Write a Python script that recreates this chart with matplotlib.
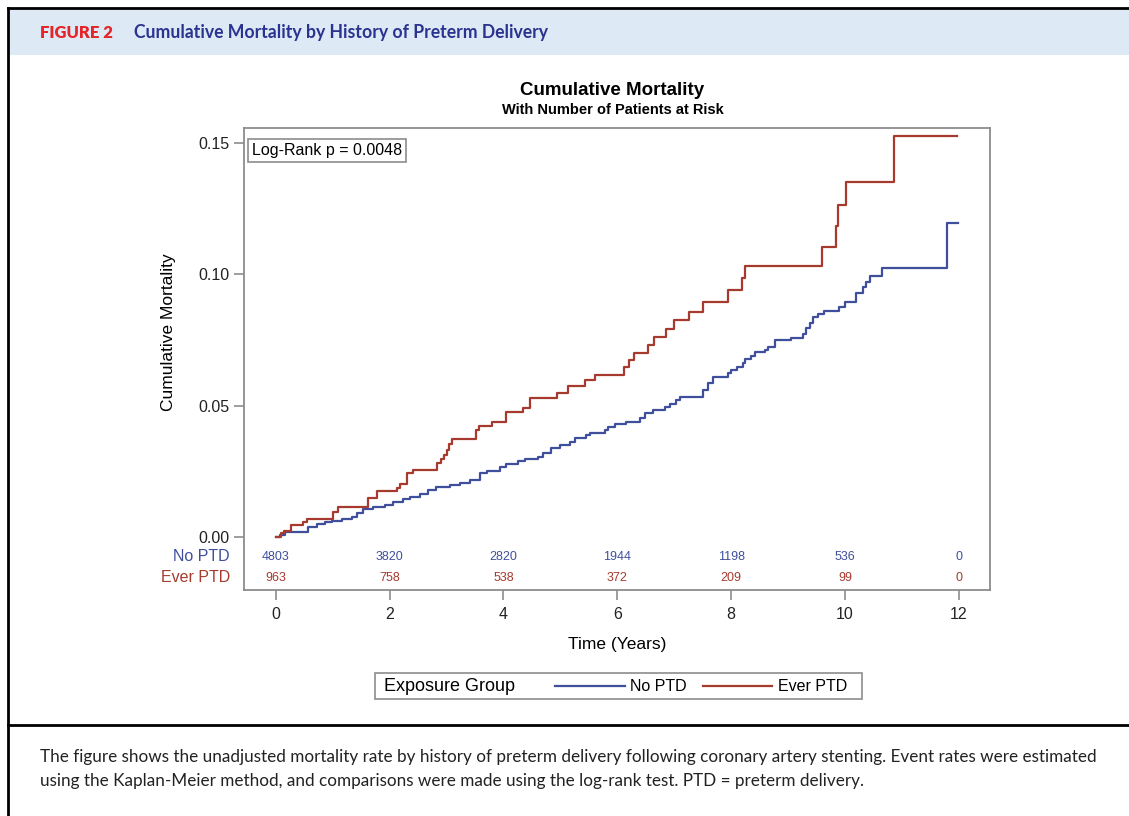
import numpy as np
import matplotlib.pyplot as plt
from matplotlib.lines import Line2D
from matplotlib.patches import Rectangle

plt.rcParams['font.family'] = ['Liberation Sans', 'DejaVu Sans']

# Kaplan-Meier step points (time in years, cumulative mortality)
ever_t = [0, 0.088, 0.141, 0.264, 0.480, 0.550, 0.996, 1.095, 1.622, 1.769,
          2.131, 2.179, 2.296, 2.412, 2.834, 2.911, 2.952, 2.999, 3.039, 3.087,
          3.514, 3.572, 3.790, 4.053, 4.345, 4.462, 4.932, 5.135, 5.429, 5.604,
          6.114, 6.207, 6.295, 6.541, 6.646, 6.864, 6.992, 7.261, 7.507, 7.946,
          8.199, 8.245, 9.605, 9.851, 9.879, 10.026, 10.863]
ever_s = [0, 0.0013, 0.0023, 0.0046, 0.0058, 0.0069, 0.0096, 0.0112, 0.0150, 0.0175,
          0.0188, 0.0202, 0.0243, 0.0255, 0.0283, 0.0296, 0.0312, 0.0331, 0.0354, 0.0372,
          0.0408, 0.0423, 0.0438, 0.0475, 0.0492, 0.0530, 0.0549, 0.0575, 0.0598, 0.0617,
          0.0645, 0.0674, 0.0700, 0.0731, 0.0763, 0.0791, 0.0824, 0.0858, 0.0896, 0.0941,
          0.0985, 0.1032, 0.1102, 0.1182, 0.1264, 0.1353, 0.1528]
ever_end = 11.97

no_t = [0, 0.07, 0.158, 0.422, 0.567, 0.715, 0.861, 0.979, 1.154, 1.330, 1.418,
        1.534, 1.709, 1.915, 2.061, 2.236, 2.354, 2.530, 2.676, 2.823, 3.057,
        3.233, 3.408, 3.584, 3.702, 3.935, 4.053, 4.257, 4.375, 4.608, 4.696,
        4.844, 4.990, 5.165, 5.253, 5.459, 5.517, 5.780, 5.838, 5.956, 6.161,
        6.395, 6.483, 6.629, 6.834, 6.922, 7.040, 7.098, 7.507, 7.595, 7.683,
        7.946, 8.006, 8.104, 8.210, 8.240, 8.357, 8.415, 8.591, 8.649, 8.767,
        9.060, 9.264, 9.324, 9.382, 9.440, 9.528, 9.628, 9.896, 9.996, 10.202,
        10.318, 10.378, 10.436, 10.659, 11.794]
no_s = [0, 0.0009, 0.0017, 0.0020, 0.0036, 0.0048, 0.0056, 0.0062, 0.0069, 0.0077, 0.0090,
        0.0105, 0.0115, 0.0122, 0.0134, 0.0144, 0.0153, 0.0164, 0.0179, 0.0189, 0.0198,
        0.0207, 0.0217, 0.0243, 0.0252, 0.0265, 0.0278, 0.0289, 0.0297, 0.0306, 0.0321,
        0.0338, 0.0350, 0.0363, 0.0376, 0.0388, 0.0397, 0.0408, 0.0420, 0.0431, 0.0436,
        0.0452, 0.0471, 0.0484, 0.0496, 0.0505, 0.0521, 0.0532, 0.0560, 0.0585, 0.0608,
        0.0623, 0.0636, 0.0646, 0.0661, 0.0677, 0.0689, 0.0703, 0.0712, 0.0722, 0.0750,
        0.0759, 0.0773, 0.0795, 0.0814, 0.0839, 0.0848, 0.0860, 0.0874, 0.0894, 0.0930,
        0.0950, 0.0972, 0.0995, 0.1022, 0.1196]
no_end = 11.98

risk_times = [0, 2, 4, 6, 8, 10, 12]
no_risk = [4803, 3820, 2820, 1944, 1198, 536, 0]
ever_risk = [963, 758, 538, 372, 209, 99, 0]

blue = '#3f4f9c'
red = '#a63a2e'
grey = '#8c8c8c'

fig = plt.figure(figsize=(11.29, 8.16), dpi=100)

# page frame, header band, caption separator
fig.add_artist(Rectangle((0.0075, 0.9326), 1.0, 0.0576, transform=fig.transFigure,
                         facecolor='#dde9f5', edgecolor='none'))
fig.add_artist(Line2D([0.0071, 1.0], [0.9902, 0.9902], transform=fig.transFigure, color='black', lw=2))
fig.add_artist(Line2D([0.0071, 0.0071], [0.0, 0.9902], transform=fig.transFigure, color='black', lw=2))
fig.add_artist(Line2D([0.0071, 1.0], [0.1115, 0.1115], transform=fig.transFigure, color='black', lw=2))

fig.text(0.0354, 0.9596, 'FIGURE 2', color='#e42529', fontsize=12, fontweight='heavy',
         family=['Lato', 'DejaVu Sans'], va='center')
fig.text(0.1187, 0.9596, 'Cumulative Mortality by History of Preterm Delivery', color='#2b3390',
         fontsize=12.7, fontweight='bold', family=['Lato', 'DejaVu Sans'], va='center')

caption = ('The figure shows the unadjusted mortality rate by history of preterm delivery following coronary artery stenting. Event rates were estimated\n'
           'using the Kaplan-Meier method, and comparisons were made using the log-rank test. PTD = preterm delivery.')
fig.text(0.0354, 0.0576, caption, fontsize=12.3, family=['Lato', 'DejaVu Sans'],
         va='center', linespacing=1.6, color='#222222')

# chart
ax = fig.add_axes([0.2161, 0.2770, 0.6608, 0.5662])
ax.step(np.append(no_t, no_end), np.append(no_s, no_s[-1]), where='post', color=blue, lw=1.6)
ax.step(np.append(ever_t, ever_end), np.append(ever_s, ever_s[-1]), where='post', color=red, lw=1.6)

ax.set_xlim(-0.56, 12.55)
ax.set_ylim(-0.0202, 0.1557)
ax.set_yticks([0, 0.05, 0.10, 0.15])
ax.set_yticklabels(['0.00', '0.05', '0.10', '0.15'])
ax.set_xticks(risk_times)
for s in ax.spines.values():
    s.set_color(grey)
    s.set_linewidth(1.3)
ax.tick_params(axis='both', color=grey, length=7, width=1.2, labelsize=11.5, labelcolor='#222222')
ax.tick_params(axis='x', pad=5)

fig.text(0.5425, 0.8885, 'Cumulative Mortality', fontsize=13.5, fontweight='bold', ha='center', va='center')
fig.text(0.5425, 0.8652, 'With Number of Patients at Risk', fontsize=10.5, fontweight='bold', ha='center', va='center')
fig.text(0.149, 0.593, 'Cumulative Mortality', fontsize=12.5, rotation=90, ha='center', va='center')
fig.text(0.5465, 0.2096, 'Time (Years)', fontsize=12.5, ha='center', va='center')

ax.text(0.011, 0.968, 'Log-Rank p = 0.0048', transform=ax.transAxes, fontsize=11.5, va='top', ha='left',
        bbox=dict(boxstyle='square,pad=0.25', facecolor='white', edgecolor=grey, lw=1.2))

# at-risk table inside the plot frame
xt = ax.get_xaxis_transform()
narrow = ['Liberation Sans Narrow', 'Liberation Sans', 'DejaVu Sans']
for t, n1, n2 in zip(risk_times, no_risk, ever_risk):
    ax.text(t, 0.0714, str(n1), transform=xt, ha='center', va='center', fontsize=9, color=blue, family=narrow)
    ax.text(t, 0.026, str(n2), transform=xt, ha='center', va='center', fontsize=9, color=red, family=narrow)
ax.text(-0.019, 0.0714, 'No PTD', transform=ax.transAxes, ha='right', va='center', fontsize=11.5, color=blue)
ax.text(-0.019, 0.026, 'Ever PTD', transform=ax.transAxes, ha='right', va='center', fontsize=11.5, color=red)

# legend
fig.add_artist(Rectangle((0.3322, 0.1434), 0.4313, 0.0318, transform=fig.transFigure,
                         facecolor='white', edgecolor=grey, lw=1.2))
fig.text(0.340, 0.1593, 'Exposure Group', fontsize=13, va='center')
fig.add_artist(Line2D([0.4916, 0.5536], [0.1593, 0.1593], transform=fig.transFigure, color=blue, lw=1.6))
fig.text(0.558, 0.1593, 'No PTD', fontsize=11.5, va='center')
fig.add_artist(Line2D([0.6227, 0.6838], [0.1593, 0.1593], transform=fig.transFigure, color=red, lw=1.6))
fig.text(0.689, 0.1593, 'Ever PTD', fontsize=11.5, va='center')

fig.savefig('out.png', dpi=100)
